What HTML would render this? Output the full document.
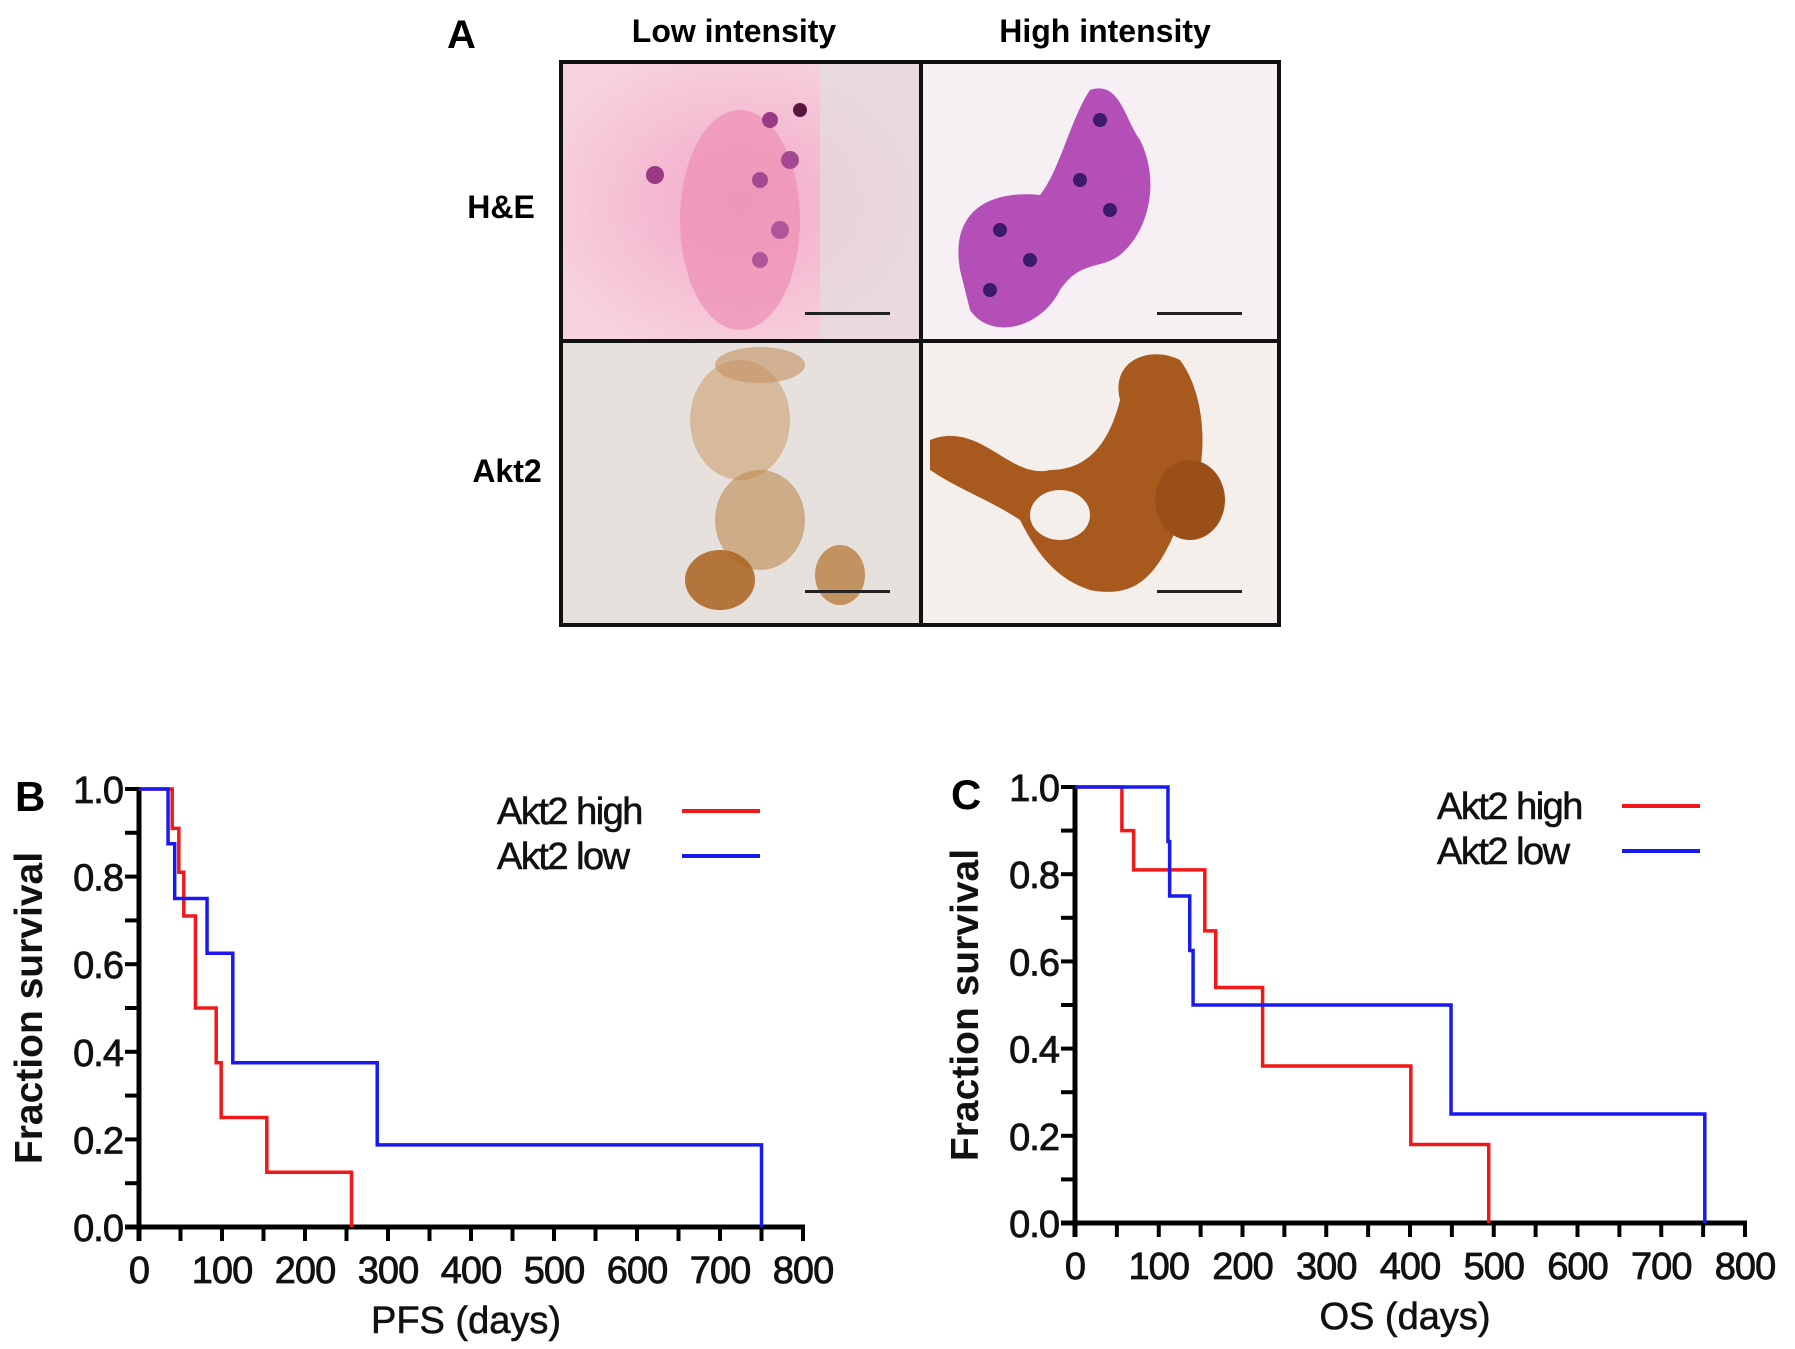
<!DOCTYPE html>
<html><head><meta charset="utf-8"><style>
body{margin:0;width:1795px;height:1349px;background:#fff;overflow:hidden;font-family:"Liberation Sans",Arial,sans-serif}
svg{position:absolute;left:0;top:0}
</style></head><body>
<svg width="1795" height="1349">
<defs>
<radialGradient id="pk" cx="50%" cy="50%" r="60%"><stop offset="0" stop-color="#f2a9c6"/><stop offset="1" stop-color="#f7d3e0"/></radialGradient>
</defs>
<g>
<text x="447" y="48" font-size="40" font-weight="bold">A</text>
<text x="734" y="42" font-size="32" font-weight="bold" text-anchor="middle">Low intensity</text>
<text x="1105" y="42" font-size="32" font-weight="bold" text-anchor="middle">High intensity</text>
<text x="501" y="218" font-size="32" font-weight="bold" text-anchor="middle">H&amp;E</text>
<text x="507" y="482" font-size="32" font-weight="bold" text-anchor="middle">Akt2</text>
<g>
<rect x="562" y="63" width="359" height="278" fill="url(#pk)"/>
<rect x="820" y="63" width="101" height="278" fill="#e4dde0" opacity="0.7"/>
<ellipse cx="740" cy="220" rx="60" ry="110" fill="#ee8fb4" opacity="0.7"/>
<circle cx="770" cy="120" r="8" fill="#9a3a86"/><circle cx="790" cy="160" r="9" fill="#a44892"/><circle cx="760" cy="180" r="8" fill="#a44892"/><circle cx="780" cy="230" r="9" fill="#b1559b"/><circle cx="655" cy="175" r="9" fill="#9a3a86"/><circle cx="800" cy="110" r="7" fill="#5a1540"/><circle cx="760" cy="260" r="8" fill="#b1559b"/>
<rect x="805" y="312" width="85" height="3" fill="#222"/>
</g>
<g>
<rect x="923" y="63" width="355" height="278" fill="#f6f0f4"/>
<path d="M960,270 C950,210 990,190 1040,195 C1060,170 1070,120 1090,90 C1120,80 1125,120 1140,140 C1160,180 1150,230 1120,255 C1100,270 1080,260 1060,290 C1040,330 990,340 970,310 Z" fill="#b44fb8"/>
<circle cx="1000" cy="230" r="7" fill="#3b1a6a"/><circle cx="1030" cy="260" r="7" fill="#3b1a6a"/><circle cx="1080" cy="180" r="7" fill="#3b1a6a"/><circle cx="1100" cy="120" r="7" fill="#3b1a6a"/><circle cx="1110" cy="210" r="7" fill="#3b1a6a"/><circle cx="990" cy="290" r="7" fill="#3b1a6a"/>
<rect x="1157" y="312" width="85" height="3" fill="#222"/>
</g>
<g>
<rect x="562" y="343" width="359" height="281" fill="#e6e1dc"/>
<ellipse cx="740" cy="420" rx="50" ry="60" fill="#c99a66" opacity="0.55"/>
<ellipse cx="760" cy="520" rx="45" ry="50" fill="#c08850" opacity="0.6"/>
<ellipse cx="720" cy="580" rx="35" ry="30" fill="#a9621f" opacity="0.85"/>
<ellipse cx="840" cy="575" rx="25" ry="30" fill="#b57838" opacity="0.75"/>
<ellipse cx="760" cy="365" rx="45" ry="18" fill="#c49060" opacity="0.6"/>
<rect x="805" y="590" width="85" height="3" fill="#222"/>
</g>
<g>
<rect x="923" y="343" width="355" height="281" fill="#f4efeb"/>
<path d="M930,440 C980,420 1010,480 1050,470 C1090,470 1110,440 1120,400 C1110,360 1150,345 1180,360 C1210,400 1210,480 1180,520 C1160,570 1140,600 1090,590 C1060,580 1040,560 1020,520 C990,500 960,490 930,470 Z" fill="#a85a1e"/>
<ellipse cx="1190" cy="500" rx="35" ry="40" fill="#9a4e18"/>
<ellipse cx="1060" cy="515" rx="30" ry="25" fill="#f4efeb"/>
<rect x="1157" y="590" width="85" height="3" fill="#222"/>
</g>
<rect x="561" y="62" width="718" height="563" fill="none" stroke="#111" stroke-width="4"/>
<line x1="921" y1="62" x2="921" y2="625" stroke="#111" stroke-width="4"/>
<line x1="561" y1="341" x2="1279" y2="341" stroke="#111" stroke-width="4"/>
</g>
<g id="chartB"></g>
<g id="chartC"></g>
</svg>
<script>
const xTicks=[0,100,200,300,400,500,600,700,800];
const yTicks=[0.0,0.2,0.4,0.6,0.8,1.0];
const pfsHighDays=[0,40,48,54,68,93,99,154,256];
const pfsHighSurv=[1,0.91,0.81,0.71,0.5,0.375,0.25,0.125,0];
const pfsLowDays=[0,35,43,82,113,287,750];
const pfsLowSurv=[1,0.875,0.75,0.625,0.375,0.1875,0];
const osHighDays=[0,56,70,155,168,224,401,494];
const osHighSurv=[1,0.9,0.81,0.67,0.54,0.36,0.18,0];
const osLowDays=[0,111,113,137,141,449,752];
const osLowSurv=[1,0.875,0.75,0.625,0.5,0.25,0];
const NS='http://www.w3.org/2000/svg';
function mk(p,tag,a,txt){const e=document.createElementNS(NS,tag);for(const k in a)e.setAttribute(k,a[k]);if(txt!==undefined)e.textContent=txt;p.appendChild(e);return e;}
function draw(gid,L,W,T,B,letter,xlabel,series,legX,legY){
 const g=document.getElementById(gid);
 const sx=d=>L+d/800*W, sy=v=>B-v*(B-T);
 const lt=mk(g,'text',{x:L-124,y:T+22,'font-size':42,'font-weight':'bold'},letter);
 
 
 const ya=mk(g,'line',{x1:L,y1:T-2,x2:L,y2:B+14,stroke:'#000','stroke-width':5});
 
 
 const xa=mk(g,'line',{x1:L-14,y1:B,x2:L+W+2,y2:B,stroke:'#000','stroke-width':5});
 
 
 for(let i=0;i<=10;i++){const y=sy(i/10);mk(g,'line',{x1:L-14,y1:y,x2:L,y2:y,stroke:'#000','stroke-width':4});}
 for(let i=0;i<=16;i++){const x=sx(i*50);mk(g,'line',{x1:x,y1:B,x2:x,y2:B+14,stroke:'#000','stroke-width':4});}
 yTicks.forEach(v=>{const t=mk(g,'text',{x:L-16,y:sy(v)+14,'font-size':38,'text-anchor':'end',fill:'#111','letter-spacing':'-1','stroke':'#111','stroke-width':0.8},v.toFixed(1));
  
  });
 xTicks.forEach(v=>{const t=mk(g,'text',{x:sx(v),y:B+56,'font-size':38,'text-anchor':'middle',fill:'#111','letter-spacing':'-1','stroke':'#111','stroke-width':0.8},String(v));
  
  });
 const yt=mk(g,'text',{x:0,y:0,'font-size':39,'font-weight':'bold','text-anchor':'middle',fill:'#111',transform:`translate(${L-97},${(T+B)/2}) rotate(-90)`},'Fraction survival');
 
 
 const xt=mk(g,'text',{x:L+W/2-5,y:B+106,'font-size':38,'text-anchor':'middle',fill:'#111','stroke':'#111','stroke-width':0.6},xlabel);
 
 
 series.forEach((s,k)=>{
  let d=`M${sx(s.days[0])},${sy(s.surv[0])}`;
  for(let i=1;i<s.days.length;i++){d+=` H${sx(s.days[i])} V${sy(s.surv[i])}`;}
  const p=mk(g,'path',{d:d,fill:'none',stroke:s.color,'stroke-width':3.5});
  
  
  const ly=legY+k*45;
  const lt2=mk(g,'text',{x:legX,y:ly+13,'font-size':38,fill:'#111','letter-spacing':'-1.5','stroke':'#111','stroke-width':0.6},s.label);
  
  
  mk(g,'line',{x1:legX+185,y1:ly,x2:legX+263,y2:ly,stroke:s.color,'stroke-width':4});
 });
}
draw('chartB',139,664,789,1227,'B','PFS (days)',[
 {name:'akt2-high',label:'Akt2 high',days:pfsHighDays,surv:pfsHighSurv,color:'#f01818'},
 {name:'akt2-low',label:'Akt2 low',days:pfsLowDays,surv:pfsLowSurv,color:'#1a1af0'}],497,811);
draw('chartC',1075,670,787,1223,'C','OS (days)',[
 {name:'akt2-high',label:'Akt2 high',days:osHighDays,surv:osHighSurv,color:'#f01818'},
 {name:'akt2-low',label:'Akt2 low',days:osLowDays,surv:osLowSurv,color:'#1a1af0'}],1437,806);
</script>
</body></html>
